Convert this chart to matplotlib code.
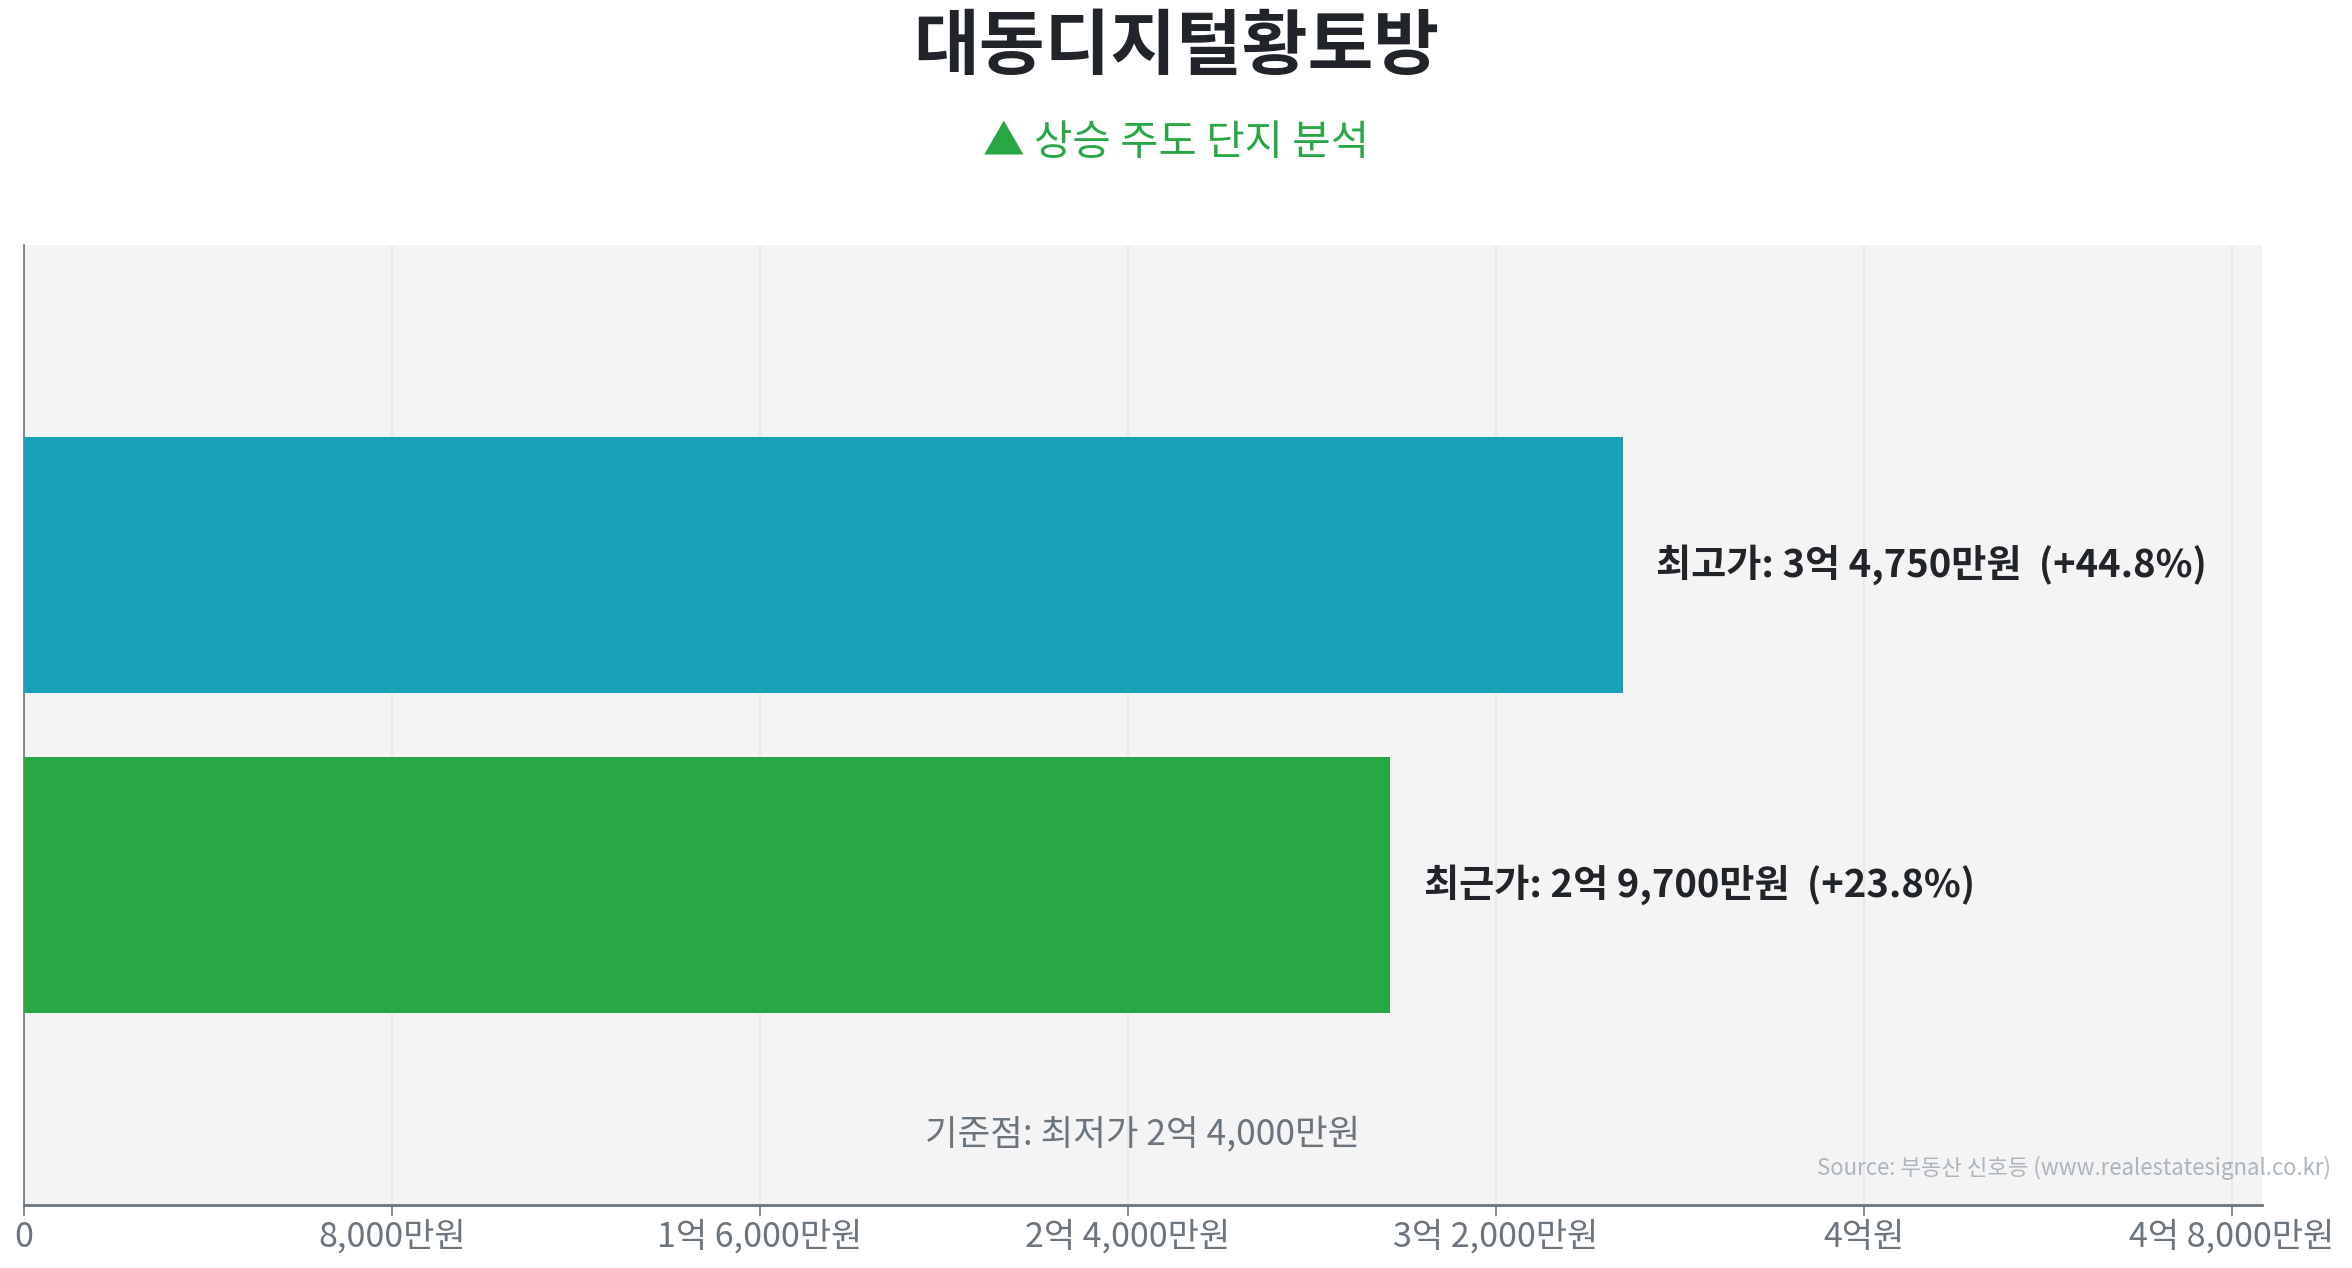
import numpy as np
import matplotlib
matplotlib.use('Agg')
import matplotlib.pyplot as plt

plt.rcParams['font.family'] = ['Noto Sans CJK KR', 'DejaVu Sans']

###
# Data (values in 만원)
###
title = '대동디지털황토방'
subtitle = '▲ 상승 주도 단지 분석'
categories = ['최고가', '최근가']
values = [34750, 29700]
bar_colors = ['#17a2b8', '#28a745']
base_price = 24000
tick_values = [0, 8000, 16000, 24000, 32000, 40000, 48000]
source_text = 'Source: 부동산 신호등 (www.realestatesignal.co.kr)'


def fmt_price(v):
    # 만원 -> "N억 M,MMM만원"
    v = int(round(v))
    if v == 0:
        return '0'
    eok, man = divmod(v, 10000)
    if eok and man:
        return f'{eok}억 {man:,}만원'
    if eok:
        return f'{eok}억원'
    return f'{man:,}만원'


fig = plt.figure(figsize=(23.52, 12.68), dpi=100)
ax = fig.add_axes([0.0102, 0.050, 0.9515, 0.757])
ax.set_facecolor('#f4f4f4')

xmax = max(values) * 1.4
y = np.arange(len(categories))
ax.barh(y, values, height=0.8, color=bar_colors, zorder=3)
ax.set_xlim(0, xmax)
ax.set_ylim(2.0, -1.0)

for yi, cat, v in zip(y, categories, values):
    pct = (v / base_price - 1) * 100
    ax.text(v + xmax * 0.015, yi, f'{cat}: {fmt_price(v)}  (+{pct:.1f}%)',
            va='center', ha='left', fontsize=27.5, fontweight='bold',
            color='#212529', zorder=4)

ax.text(0.5, 0.072, f'기준점: 최저가 {fmt_price(base_price)}', transform=ax.transAxes,
        ha='center', va='center', fontsize=25.5, color='#6c757d')

ax.set_xticks(tick_values)
ax.set_xticklabels([fmt_price(t) for t in tick_values])
ax.tick_params(axis='x', labelsize=24.5, colors='#6c757d', length=8, width=1.2, pad=3)
ax.tick_params(axis='y', left=False, labelleft=False)
ax.grid(axis='x', color='#e6e6e6', linewidth=1.2, zorder=0)
ax.set_axisbelow(True)

for side in ['top', 'right']:
    ax.spines[side].set_visible(False)
ax.spines['left'].set_color('#6c757d')
ax.spines['left'].set_linewidth(1.2)
ax.spines['bottom'].set_color('#6c757d')
ax.spines['bottom'].set_linewidth(2)

fig.text(0.5, 0.962, title, ha='center', va='center', fontsize=51.5,
         fontweight='bold', color='#212529')
fig.text(0.5, 0.887, subtitle, ha='center', va='center', fontsize=30,
         color='#28a745')
fig.text(0.991, 0.079, source_text, ha='right', va='center', fontsize=16,
         color='#adb5bd')

fig.savefig('out.png', dpi=100)
